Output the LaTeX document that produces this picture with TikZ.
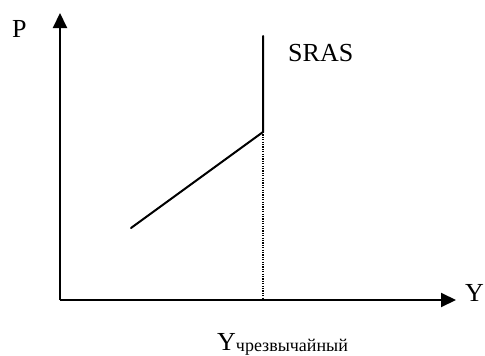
\documentclass[tikz,border=0pt]{standalone}
\usepackage{fontspec}
\setmainfont{Liberation Serif}
\usetikzlibrary{arrows.meta}
\begin{document}
\begin{tikzpicture}[x=1pt,y=-1pt,
  axis/.style={line width=2pt,-{Triangle[length=15pt,width=14pt]}},
  curve/.style={line width=2pt},
  guide/.style={line width=1.2pt,dash pattern=on 1.2pt off 1.2pt},
  lbl/.style={inner sep=0pt,anchor=base west,font=\fontsize{26}{30}\selectfont}]
\useasboundingbox (0,0) rectangle (485,356);
\coordinate (O) at (60,300);
\coordinate (Ptip) at (60,13);
\coordinate (Ytip) at (456,300);
\coordinate (start) at (131,228);
\coordinate (kink) at (263,132);
\coordinate (top) at (263,36);
\coordinate (foot) at (263,300);
\draw[guide] (kink) -- (foot);
\draw[axis] (O) -- (Ptip);
\draw[axis] (O) -- (Ytip);
\draw[curve,line cap=round] (start) -- (kink) -- (top);
\node[lbl] (P) at (12,37) {P};
\node[lbl] (Y) at (465,301) {Y};
\node[lbl] (SRAS) at (288,61) {SRAS};
\node[lbl] (Yc) at (217,350) {Y\raisebox{-1.5pt}{\fontsize{18}{20}\selectfont чрезвычайный}};
\end{tikzpicture}
\end{document}
